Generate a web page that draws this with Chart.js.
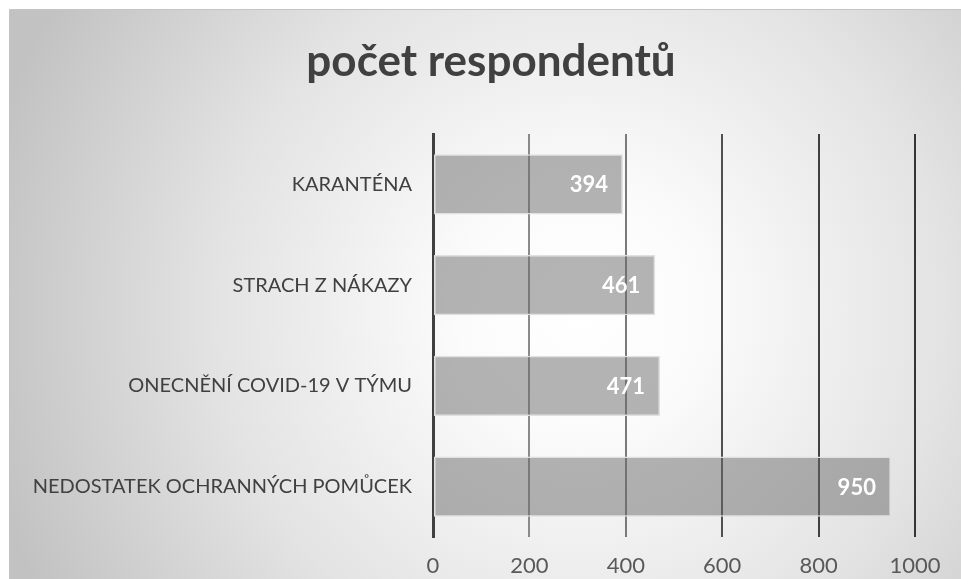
<!DOCTYPE html>
<html>
<head>
<meta charset="utf-8">
<script src="https://cdn.jsdelivr.net/npm/chart.js@4.4.1/dist/chart.umd.min.js"></script>
<style>
html,body{margin:0;padding:0;background:#fff;}
#wrap{position:absolute;left:0;top:0;width:961px;height:579px;}
</style>
</head>
<body>
<div id="wrap"><canvas id="cnv" width="961" height="579"></canvas></div>
<script>
// data
var chart_title="počet respondentů";
var categories=["KARANTÉNA","STRACH Z NÁKAZY","ONECNĚNÍ COVID-19 V TÝMU","NEDOSTATEK OCHRANNÝCH POMŮCEK"];
var respondents=[394,461,471,950];
var x_min=0;
var x_max=1000;
var x_step=200;

// grid line colours go darker to the right
var grid_colors={0:"rgba(0,0,0,0)",200:"#8a8a8a",400:"#7a7a7a",600:"#505050",800:"#404040",1000:"#353535"};

var frameBackground={
	id:"frameBackground",
	beforeDraw:function(chart){
		var ctx=chart.ctx;
		ctx.save();
		var g=ctx.createRadialGradient(580,310,0,580,310,610);
		g.addColorStop(0,"#ffffff");
		g.addColorStop(0.2,"#fbfbfb");
		g.addColorStop(0.6,"#e3e3e3");
		g.addColorStop(1,"#c2c2c2");
		ctx.fillStyle=g;
		ctx.fillRect(10,9,951,570);
		ctx.strokeStyle="#c4c4c4";
		ctx.lineWidth=1;
		ctx.beginPath();
		ctx.moveTo(9.5,579);ctx.lineTo(9.5,9.5);ctx.lineTo(961,9.5);
		ctx.stroke();
		// title, centred on the whole frame
		ctx.font="bold 44px Lato";
		ctx.fillStyle="#404040";
		ctx.textAlign="center";
		ctx.textBaseline="alphabetic";
		ctx.fillText(chart_title,491,76);
		ctx.restore();
	}
};

var barValueLabels={
	id:"barValueLabels",
	afterDatasetsDraw:function(chart){
		var ctx=chart.ctx;
		var meta=chart.getDatasetMeta(0);
		ctx.save();
		ctx.font="bold 22px Lato";
		ctx.fillStyle="#ffffff";
		ctx.textAlign="right";
		ctx.textBaseline="middle";
		for(var i=0;i<meta.data.length;i++){
			var el=meta.data[i];
			ctx.fillText(String(chart.data.datasets[0].data[i]),el.x-15,el.y+1);
		}
		ctx.restore();
	}
};

var ctx=document.getElementById("cnv").getContext("2d");
var chart=new Chart(ctx,{
	type:"bar",
	data:{
		labels:categories,
		datasets:[{
			data:respondents,
			backgroundColor:"rgba(106,106,106,0.5)",
			borderColor:"#e0e0e0",
			borderWidth:1.5,
			borderSkipped:false,
			barPercentage:0.6,
			categoryPercentage:1
		}]
	},
	options:{
		indexAxis:"y",
		responsive:false,
		animation:false,
		layout:{padding:{left:0,right:46,top:134,bottom:0}},
		plugins:{
			legend:{display:false},
			tooltip:{enabled:false},
			title:{display:false}
		},
		scales:{
			x:{
				min:x_min,max:x_max,
				ticks:{stepSize:x_step,color:"#595959",font:{family:"Lato",size:22},padding:16,
					callback:function(v){ return String(v); }},
				grid:{
					drawTicks:false,
					lineWidth:2,
					color:function(c){ return grid_colors[c.tick.value]||"#606060"; }
				},
				border:{display:false},
				afterFit:function(scale){ scale.height=42; }
			},
			y:{
				ticks:{color:"#404040",font:{family:"Lato",size:20},padding:21},
				grid:{display:false,drawTicks:false},
				border:{display:true,color:"#404040",width:3},
				afterFit:function(scale){ scale.width=433; }
			}
		}
	},
	plugins:[frameBackground,barValueLabels]
});
</script>
</body>
</html>
